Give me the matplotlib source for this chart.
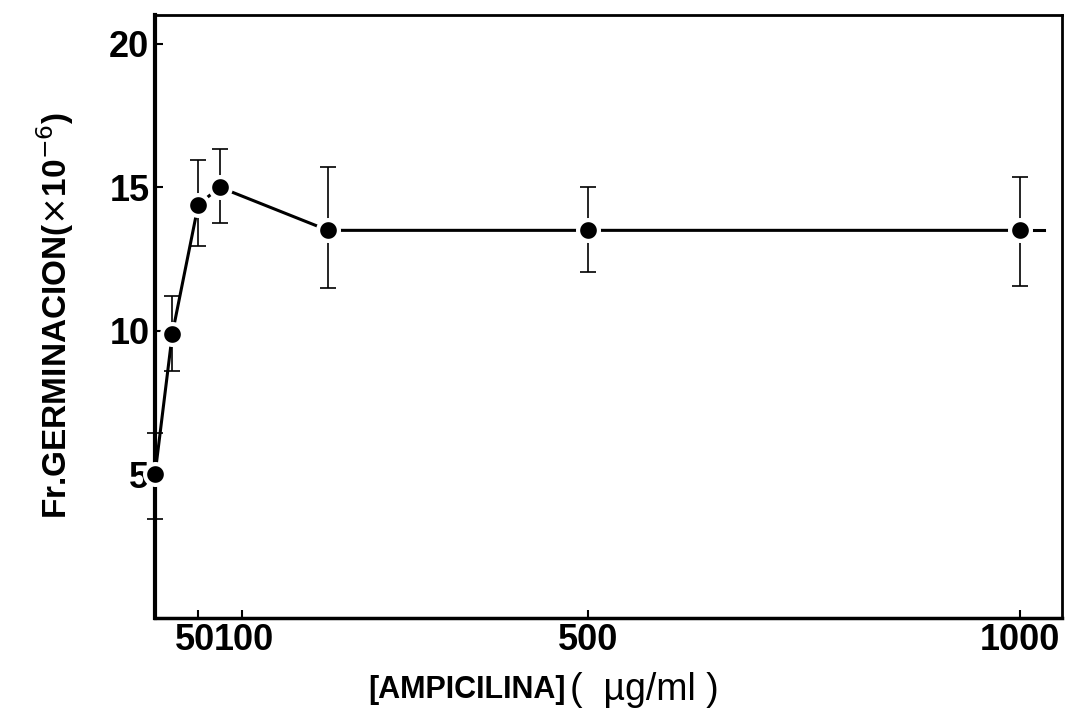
import matplotlib.pyplot as plt
import matplotlib.transforms as mtransforms

# Dati: fraccion de germinacion vs concentracion de ampicilina
conc = [0, 20, 50, 75, 200, 500, 1000]          # ug/ml
germ = [5.0, 9.9, 14.4, 15.0, 13.5, 13.5, 13.5]  # x10^-6
err_hi = [1.45, 1.3, 1.55, 1.35, 2.2, 1.5, 1.85]
err_lo = [1.55, 1.3, 1.45, 1.25, 2.0, 1.45, 1.95]
tail_x = [1012, 1028]  # trazo corto tras el ultimo punto
xticks = [50, 100, 500, 1000]
yticks = [5, 10, 15, 20]

plt.rcParams['font.family'] = ['Liberation Sans', 'DejaVu Sans']

fig = plt.figure(figsize=(10.67, 7.16), dpi=100)
ax = fig.add_axes([0.1453, 0.137, 0.8497, 0.842])

ax.errorbar(conc, germ, yerr=[err_lo, err_hi], fmt='none', ecolor='black',
            elinewidth=1.2, capsize=6, capthick=1.2, clip_on=False, zorder=2)
ax.plot(conc, germ, color='black', linewidth=2.2, marker='o', markersize=15,
        markerfacecolor='black', markeredgecolor='white', markeredgewidth=3,
        clip_on=False, zorder=3)
ax.plot(tail_x, [germ[-1]] * 2, color='black', linewidth=2.2)

ax.set_xlim(0, 1048)
ax.set_ylim(0, 21)
ax.set_xticks(xticks)
ax.set_xticklabels([str(t) for t in xticks])
ax.set_yticks(yticks)
ax.set_yticklabels([str(t) for t in yticks])
ax.tick_params(direction='in', length=6, width=1.5, labelsize=26, pad=4)
for lab in ax.get_xticklabels() + ax.get_yticklabels():
    lab.set_fontweight('bold')

# separar un poco las etiquetas 50 y 100
xl = ax.get_xticklabels()
xl[0].set_transform(xl[0].get_transform() +
                    mtransforms.ScaledTranslation(-3 / 100, 0, fig.dpi_scale_trans))
xl[1].set_transform(xl[1].get_transform() +
                    mtransforms.ScaledTranslation(2 / 100, 0, fig.dpi_scale_trans))

ax.spines['left'].set_linewidth(3)
ax.spines['bottom'].set_linewidth(2.5)
ax.spines['top'].set_linewidth(2)
ax.spines['right'].set_linewidth(2)

fig.text(0.530, 0.036, '[AMPICILINA]', fontsize=22, fontweight='bold',
         ha='right', va='center')
fig.text(0.534, 0.036, '(  µg/ml )', fontsize=27, ha='left', va='center')
fig.text(0.052, 0.56, r'Fr.GERMINACION($\times$10$^{-6}$)', fontsize=24,
         fontweight='bold', rotation=90, ha='center', va='center')

plt.savefig('out.png', dpi=100)
